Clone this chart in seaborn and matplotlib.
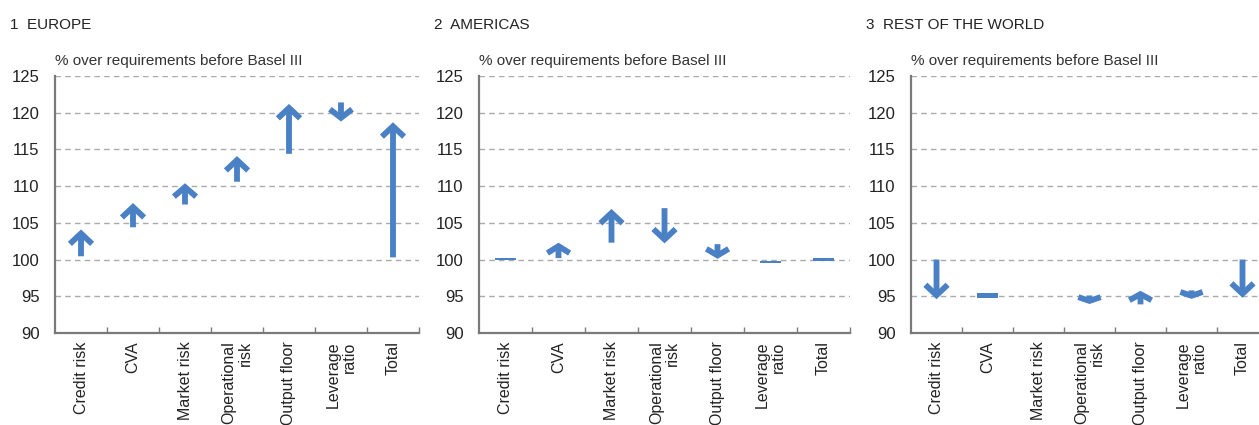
import numpy as np
import matplotlib
matplotlib.use("Agg")
import matplotlib.pyplot as plt
from matplotlib.ticker import FixedLocator
import seaborn as sns

categories = ["Credit risk", "CVA", "Market risk", "Operational\nrisk",
              "Output floor", "Leverage\nratio", "Total"]

panel_titles = ["1  EUROPE", "2  AMERICAS", "3  REST OF THE WORLD"]
subtitle = "% over requirements before Basel III"

europe_start = [100.45, 104.4, 107.5, 110.6, 114.4, 121.4, 100.3]
europe_end = [104.1, 107.7, 110.4, 114.1, 121.2, 118.8, 118.7]

americas_start = [99.9, 100.2, 102.3, 107.0, 102.1, 99.55, 99.82]
americas_end = [100.15, 102.3, 106.9, 102.2, 100.1, 99.8, 100.27]

row_start = [100.0, 94.75, np.nan, 95.1, 93.9, 95.8, 100.0]
row_end = [94.6, 95.45, np.nan, 93.95, 95.75, 94.65, 94.8]

yticks = [90, 95, 100, 105, 110, 115, 120, 125]

sns.set_theme(style="white")
plt.rcParams["font.family"] = ["Liberation Sans", "DejaVu Sans"]

BLUE = "#4a80c4"
TEXT = "#222222"
SPINE = "#7a7a7a"
GRID = "#aaaaaa"

W, H = 1259, 425
fig = plt.figure(figsize=(W / 100, H / 100), dpi=100)

# axes placement in pixels: left, width
layout = [(55, 364), (479, 371), (911, 357)]
top_px, bot_px = 76, 333
px_per_unit = (bot_px - top_px) / 35.0

data = [(europe_start, europe_end), (americas_start, americas_end), (row_start, row_end)]

for (left, width), title, (starts, ends) in zip(layout, panel_titles, data):
    ax = fig.add_axes([left / W, 1 - bot_px / H, width / W, (bot_px - top_px) / H])
    ax.set_xlim(-0.5, len(categories) - 0.5)
    ax.set_ylim(90, 125)
    ax.set_yticks(yticks)
    ax.set_yticklabels([str(t) for t in yticks], fontsize=12, color=TEXT)
    ax.set_xticks(range(len(categories)))
    ax.set_xticklabels(categories, rotation=90, fontsize=11.5, color=TEXT,
                       va="top", ha="center", multialignment="right",
                       linespacing=1.1)
    ax.xaxis.set_minor_locator(FixedLocator(np.arange(0.5, len(categories), 1.0)))
    ax.tick_params(axis="x", which="major", length=0, pad=6)
    ax.tick_params(axis="x", which="minor", direction="in", length=4,
                   width=1, color=SPINE, bottom=True)
    ax.tick_params(axis="y", length=0, pad=11)
    for yv in yticks[1:]:
        ax.axhline(yv, color=GRID, lw=1, ls=(0, (4, 3)), zorder=0)
    sns.despine(ax=ax, top=True, right=True)
    for s in ["left", "bottom"]:
        ax.spines[s].set_color(SPINE)
        ax.spines[s].set_linewidth(1.6)
    ax.set_facecolor("white")

    for i, (s, e) in enumerate(zip(starts, ends)):
        if np.isnan(s) or np.isnan(e):
            continue
        if abs(e - s) < 0.8:
            lo, hi = min(s, e), max(s, e)
            ax.bar(i, hi - lo, bottom=lo, width=0.4, color=BLUE, lw=0, zorder=3)
        else:
            length_px = abs(e - s) * px_per_unit
            # head in units of mutation_scale (10 pt = 13.9 px)
            hl = min(0.75, 0.45 * length_px / 13.9)
            style = f"->,head_length={hl:.3f},head_width=0.8"
            ax.annotate("", xy=(i, e), xytext=(i, s),
                        arrowprops=dict(arrowstyle=style,
                                        color=BLUE, lw=4.2, shrinkA=0, shrinkB=0,
                                        mutation_scale=10, capstyle="butt",
                                        joinstyle="miter"),
                        zorder=3)

    fig.text(left / W, 1 - 61 / H, subtitle, fontsize=11, color="#333333",
             ha="left", va="center")
    fig.text((left - 45) / W, 1 - 25 / H, title, fontsize=11, color=TEXT,
             ha="left", va="center")

fig.savefig("out.png", dpi=100, facecolor="white")
